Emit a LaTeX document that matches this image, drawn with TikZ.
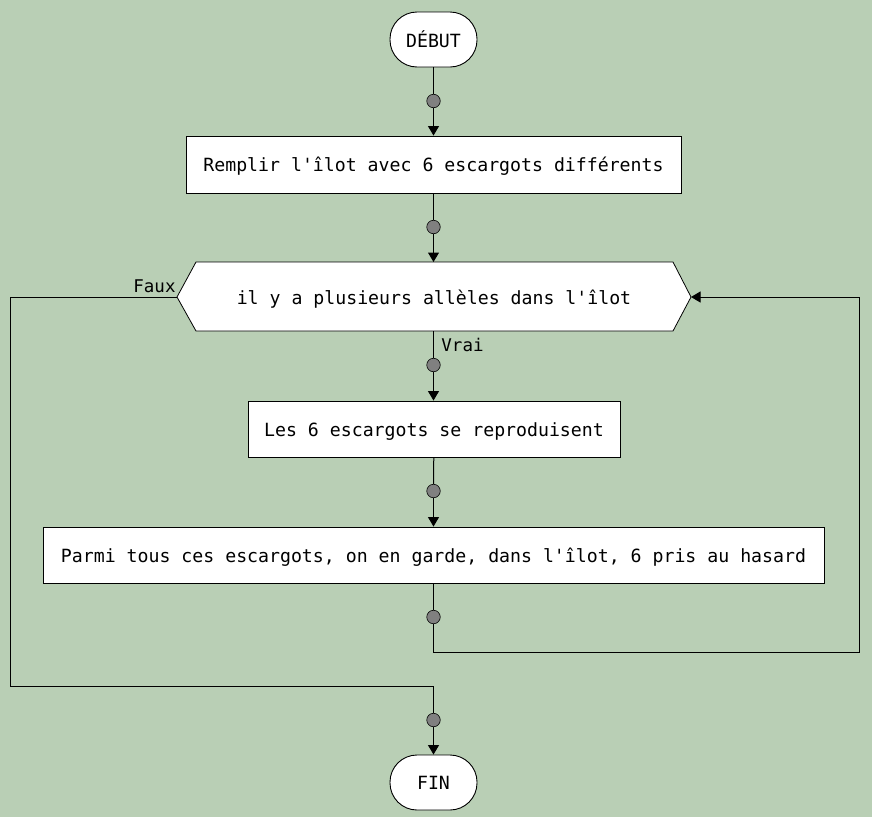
\documentclass[tikz,border=0pt]{standalone}
\usepackage{fontspec}
\setmonofont{DejaVu Sans Mono}
\usetikzlibrary{arrows.meta}
\definecolor{bg}{RGB}{185,207,181}
\definecolor{dotgray}{RGB}{128,128,128}
\begin{document}
\begin{tikzpicture}[x=1pt,y=-1pt,
  every node/.style={font=\ttfamily\fontsize{18.2}{21}\selectfont, inner sep=0pt},
  proc/.style={draw=black, fill=white, line width=0.9pt, text height=14pt, text depth=0pt},
  term/.style={draw=black, fill=white, line width=0.9pt, rounded corners=27pt, minimum width=87pt, minimum height=55pt},
  dot/.style={circle, draw=black, fill=dotgray, line width=0.6pt, minimum size=13.5pt},
  line/.style={draw=black, line width=1pt},
  arr/.style={line, -{Triangle[width=11pt,length=9.5pt]}},
  lab/.style={font=\ttfamily\fontsize{17.5}{20}\selectfont}]
\useasboundingbox (0,0) rectangle (872,817);
\fill[bg] (0,0) rectangle (872,817);

% terminals
\node[term] (debut) at (433.5,39.5) {DÉBUT};
\node[term] (fin) at (433.5,782.5) {FIN};

% process boxes
\node[proc, minimum width=495pt, minimum height=57pt] (box1) at (433.5,164.5) {Remplir l'îlot avec 6 escargots différents};
\node[proc, minimum width=372pt, minimum height=56pt] (box2) at (434,429) {Les 6 escargots se reproduisent};
\node[proc, minimum width=781pt, minimum height=56pt] (box3) at (433.5,555) {Parmi tous ces escargots, on en garde, dans l'îlot, 6 pris au hasard};

% decision hexagon
\coordinate (hexL) at (177,297);
\coordinate (hexR) at (691,297);
\coordinate (hexT) at (433.5,262);
\coordinate (hexB) at (433.5,331);
\filldraw[draw=black, fill=white, line width=0.8pt] (hexL) -- (196,262) -- (673,262) -- (hexR) -- (673,331) -- (196,331) -- cycle;
\node[text height=14pt, text depth=0pt] (hex) at (434,297) {il y a plusieurs allèles dans l'îlot};

% dots
\node[dot] (d1) at (433.5,101) {};
\node[dot] (d2) at (433.5,227) {};
\node[dot] (d3) at (433.5,365) {};
\node[dot] (d4) at (433.5,491) {};
\node[dot] (d5) at (433.5,617) {};
\node[dot] (d6) at (433.5,720) {};

% connectors
\draw[line] (debut) -- (d1);
\draw[arr] (d1) -- (d1 |- box1.north);
\draw[line] (box1) -- (d2);
\draw[arr] (d2) -- (hexT);
\draw[line] (hexB) -- (d3);
\draw[arr] (d3) -- (d3 |- box2.north);
\draw[line] (box2) -- (d4);
\draw[arr] (d4) -- (d4 |- box3.north);
\draw[line] (box3) -- (d5);
\coordinate (loopc) at (859,652);
\draw[arr] (d5) |- (loopc) |- (hexR);
\coordinate (fauxc) at (10,686);
\draw[line] (hexL) -| (fauxc) -| (d6);
\draw[arr] (d6) -- (d6 |- fin.north);

% labels
\node[lab] (faux) at (154.5,286) {Faux};
\node[lab] (vrai) at (462.5,345) {Vrai};
\end{tikzpicture}
\end{document}
